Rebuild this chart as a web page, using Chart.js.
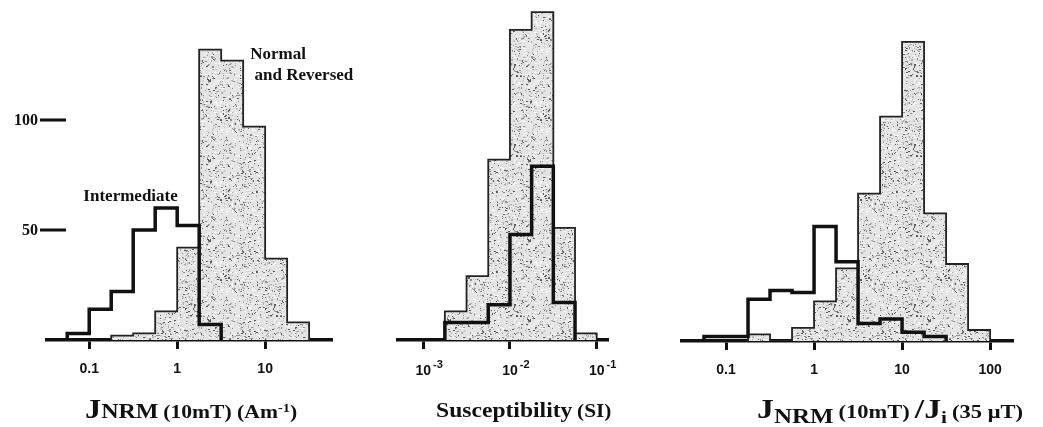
<!DOCTYPE html>
<html>
<head>
<meta charset="utf-8">
<script src="https://cdn.jsdelivr.net/npm/chart.js@4.4.1/dist/chart.umd.min.js"></script>
<style>
  html, body { margin: 0; padding: 0; background: #fff; }
  #wrap { position: relative; width: 1043px; height: 427px; overflow: hidden; }
  #wrap canvas { position: absolute; left: 0; top: 0; }
  .title { position: absolute; top: 396px; font-family: "Liberation Serif", "Times New Roman", serif; font-weight: bold; color: #111; white-space: nowrap; line-height: 1; transform-origin: 0 50%; }
  .big { font-size: 27px; }
  .mid { font-size: 20px; }
  .sm { font-size: 18px; }
  sup { font-size: 12px; vertical-align: 6px; }
  sub { font-size: 20px; vertical-align: -5px; }
</style>
</head>
<body>
<div id="wrap">
  <canvas id="chartJnrm" width="1043" height="427"></canvas>
  <canvas id="chartSus" width="1043" height="427"></canvas>
  <canvas id="chartRatio" width="1043" height="427"></canvas>
  <div class="title" style="left:85px; transform:scaleX(1.2)"><span class="big">J</span><span class="mid">NRM</span> <span class="sm">(10mT) (Am<sup>-1</sup>)</span></div>
  <div class="title" style="left:436px; top:400px; transform:scaleX(1.18)"><span class="mid">Susceptibility</span> <span class="sm">(SI)</span></div>
  <div class="title" style="left:757px; transform:scaleX(1.25)"><span class="big">J</span><sub>NRM</sub> <span class="sm">(10mT)</span> <span class="big">/J</span><sub style="font-size:17px">i</sub> <span class="sm">(35 &mu;T)</span></div>
</div>
<script>
// bin edges are log10 of the quantity, quarter-decade bins
const jnrmEdges = [-1.25, -1, -0.75, -0.5, -0.25, 0, 0.25, 0.5, 0.75, 1, 1.25, 1.5];
const jnrmIntermediate = [3, 14, 22, 50, 60, 52, 7, 0, 0, 0, 0];
const jnrmNormalReversed = [0, 0, 2, 3, 13, 42, 132, 127, 97, 37, 8];
const jnrmTicks = [-1, 0, 1];
const jnrmTickLabels = ["0.1", "1", "10"];

const susEdges = [-2.75, -2.5, -2.25, -2, -1.75, -1.5, -1.25, -1];
const susIntermediate = [8, 8, 16, 48, 79, 17, 0];
const susNormalReversed = [13, 29, 82, 141, 149, 51, 3];
const susTicks = [-3, -2, -1];
const susTickBase = "10";
const susTickExponents = ["-3", "-2", "-1"];

const ratioEdges = [-1.25, -1, -0.75, -0.5, -0.25, 0, 0.25, 0.5, 0.75, 1, 1.25, 1.5, 1.75, 2];
const ratioIntermediate = [2, 2, 19, 23, 22, 52, 36, 8, 10, 4, 2, 0, 0];
const ratioNormalReversed = [0, 0, 3, 0, 6, 18, 33, 67, 102, 136, 58, 35, 5];
const ratioTicks = [-1, 0, 1, 2];
const ratioTickLabels = ["0.1", "1", "10", "100"];

const countTicks = [50, 100];
const countTickLabels = ["50", "100"];

const W = 1043, H = 427;
const serif = '"Liberation Serif", "Times New Roman", serif';
const sans = '"Liberation Sans", Arial, sans-serif';

// outline of a histogram as a stepped line, starting and ending on the baseline
function histSteps(edges, counts) {
    let a = counts.findIndex(c => c > 0);
    let b = counts.length - 1;
    while (b > a && counts[b] === 0) b--;
    const pts = [{ x: edges[a], y: 0 }];
    for (let i = a; i <= b; i++) pts.push({ x: edges[i], y: counts[i] });
    pts.push({ x: edges[b + 1], y: 0 });
    return pts;
}

// stippled grey fill, like the printed screen (fixed seed, texture only)
function makeStipple() {
    const size = 80;
    const c = document.createElement("canvas");
    c.width = size; c.height = size;
    const g = c.getContext("2d");
    g.fillStyle = "#e4e4e4";
    g.fillRect(0, 0, size, size);
    let s = 12345;
    const next = m => { s = (s * 16807) % 2147483647; return s % m; };
    const shades = ["#5a5a5a", "#8c8c8c", "#adadad", "#c6c6c6"];
    for (let i = 0; i < 750; i++) {
        const x = next(size), y = next(size);
        g.fillStyle = shades[next(4)];
        g.fillRect(x, y, next(3) === 0 ? 2 : 1, next(5) === 0 ? 2 : 1);
    }
    for (let i = 0; i < 350; i++) {
        const x = next(size), y = next(size);
        g.fillStyle = "#f8f8f8";
        g.fillRect(x, y, 2, 1);
    }
    return g.createPattern(c, "repeat");
}
const stipple = makeStipple();

const countAxisPlugin = {
    id: "countAxis",
    afterDraw(chart, args, o) {
        if (!o.values) return;
        const ctx = chart.ctx;
        const y = chart.scales.y;
        const left = chart.chartArea.left;
        ctx.save();
        ctx.fillStyle = "#111";
        ctx.font = "bold 16px " + serif;
        ctx.textAlign = "right";
        ctx.textBaseline = "middle";
        o.values.forEach((v, i) => {
            const py = y.getPixelForValue(v);
            ctx.fillRect(left - 7, py - 1.5, 26, 3);
            ctx.fillText(o.labels[i], left - 9, py + 1);
        });
        ctx.restore();
    }
};

// "10" with a raised exponent, placed on the x scale's tick values
const powerTicksPlugin = {
    id: "powerTicks",
    afterDraw(chart, args, o) {
        if (!o.exponents) return;
        const ctx = chart.ctx;
        const x = chart.scales.x;
        const yb = chart.chartArea.bottom + 35;
        ctx.save();
        ctx.fillStyle = "#111";
        ctx.textBaseline = "alphabetic";
        ctx.textAlign = "left";
        o.values.forEach((v, i) => {
            const px = x.getPixelForValue(v);
            ctx.font = "bold 14px " + sans;
            const wb = ctx.measureText(o.base).width;
            ctx.font = "bold 11px " + sans;
            const we = ctx.measureText(o.exponents[i]).width;
            const x0 = px + 6 - (wb + 2 + we) / 2;
            ctx.font = "bold 14px " + sans;
            ctx.fillText(o.base, x0, yb);
            ctx.font = "bold 11px " + sans;
            ctx.fillText(o.exponents[i], x0 + wb + 2, yb - 7);
        });
        ctx.restore();
    }
};

const notesPlugin = {
    id: "notes",
    afterDraw(chart, args, o) {
        if (!o.items) return;
        const ctx = chart.ctx;
        ctx.save();
        ctx.fillStyle = "#111";
        ctx.font = "bold 17px " + serif;
        ctx.textBaseline = "middle";
        o.items.forEach(it => {
            ctx.textAlign = it.align || "left";
            ctx.fillText(it.text, chart.scales.x.getPixelForValue(it.x), chart.scales.y.getPixelForValue(it.y));
        });
        ctx.restore();
    }
};

function makeChart(id, cfg) {
    return new Chart(document.getElementById(id), {
        type: "line",
        data: {
            datasets: [
                {
                    label: "Intermediate",
                    data: histSteps(cfg.edges, cfg.intermediate),
                    stepped: "before",
                    borderColor: "#111",
                    borderWidth: 3.5,
                    borderJoinStyle: "miter",
                    fill: false,
                    pointRadius: 0,
                    order: 0,
                },
                {
                    label: "Normal and Reversed",
                    data: histSteps(cfg.edges, cfg.normal),
                    stepped: "before",
                    borderColor: "#222",
                    borderWidth: 1.8,
                    borderJoinStyle: "miter",
                    backgroundColor: stipple,
                    fill: "origin",
                    pointRadius: 0,
                    order: 1,
                },
            ],
        },
        options: {
            responsive: false,
            animation: false,
            events: [],
            layout: { padding: { left: cfg.left, right: W - cfg.right, top: cfg.bottom - 330, bottom: 0 } },
            plugins: {
                legend: { display: false },
                tooltip: { enabled: false },
                countAxis: cfg.countAxis || {},
                powerTicks: cfg.powerTicks || {},
                notes: { items: cfg.notes || [] },
            },
            scales: {
                x: {
                    type: "linear",
                    min: cfg.min,
                    max: cfg.max,
                    afterBuildTicks: s => { s.ticks = cfg.ticks.map(v => ({ value: v })); },
                    afterFit: s => { s.height = H - cfg.bottom; },
                    ticks: {
                        display: !!cfg.tickLabels,
                        autoSkip: false,
                        maxRotation: 0,
                        padding: 12,
                        color: "#111",
                        font: { family: sans, size: 14, weight: "bold" },
                        callback: (v, i) => (cfg.tickLabels ? cfg.tickLabels[i] : ""),
                    },
                    grid: { drawOnChartArea: false, drawTicks: true, tickLength: 9, tickWidth: 3, tickColor: "#111" },
                    border: { display: true, width: 3.5, color: "#111" },
                },
                y: { display: false, min: 0, max: 150 },
            },
        },
        plugins: [countAxisPlugin, powerTicksPlugin, notesPlugin],
    });
}

makeChart("chartJnrm", {
    edges: jnrmEdges, intermediate: jnrmIntermediate, normal: jnrmNormalReversed,
    ticks: jnrmTicks, tickLabels: jnrmTickLabels,
    min: -1.48, max: 1.76, left: 47, right: 332, bottom: 340,
    countAxis: { values: countTicks, labels: countTickLabels },
    notes: [
        { text: "Intermediate", x: -0.53, y: 65, align: "center" },
        { text: "Normal", x: 0.83, y: 129.5 },
        { text: "and Reversed", x: 0.88, y: 120 },
    ],
});

makeChart("chartSus", {
    edges: susEdges, intermediate: susIntermediate, normal: susNormalReversed,
    ticks: susTicks,
    powerTicks: { values: susTicks, base: susTickBase, exponents: susTickExponents },
    min: -3.29, max: -0.87, left: 398, right: 608, bottom: 340,
});

makeChart("chartRatio", {
    edges: ratioEdges, intermediate: ratioIntermediate, normal: ratioNormalReversed,
    ticks: ratioTicks, tickLabels: ratioTickLabels,
    min: -1.5, max: 2.26, left: 682, right: 1013, bottom: 341,
});
</script>
</body>
</html>
